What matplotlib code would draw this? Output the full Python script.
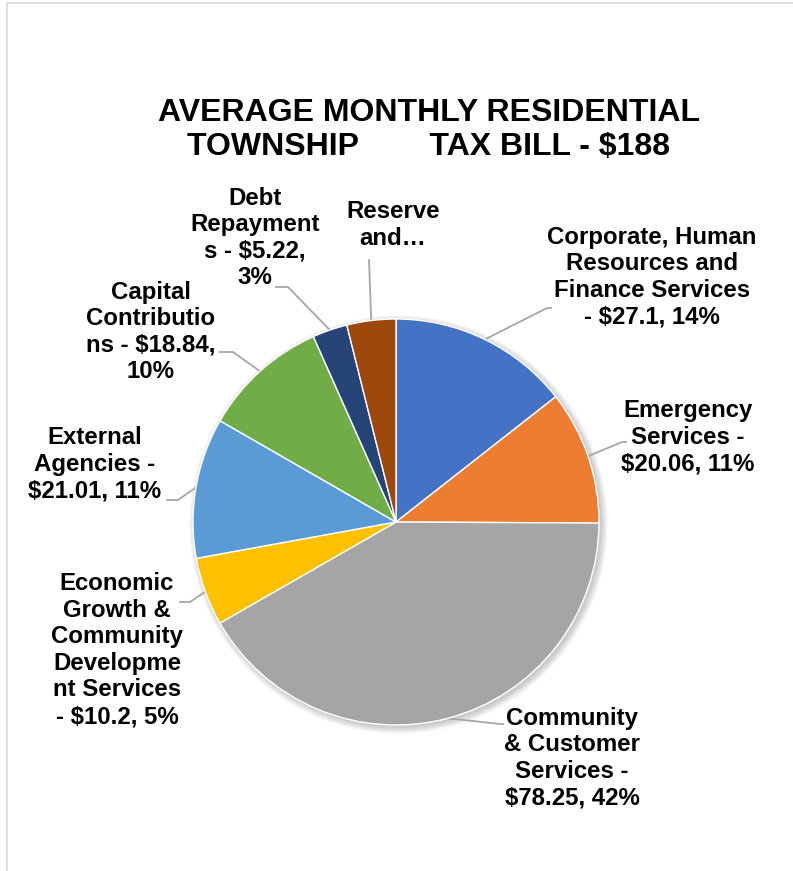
import matplotlib.pyplot as plt
import numpy as np
from matplotlib.patches import Circle, Rectangle

# monthly tax bill split, in dollars
categories = [
    "Corporate, Human\nResources and\nFinance Services\n- $27.1, 14%",
    "Emergency\nServices -\n$20.06, 11%",
    "Community\n& Customer\nServices -\n$78.25, 42%",
    "Economic\nGrowth &\nCommunity\nDevelopme\nnt Services\n- $10.2, 5%",
    "External\nAgencies -\n$21.01, 11%",
    "Capital\nContributio\nns - $18.84,\n10%",
    "Debt\nRepayment\ns - $5.22,\n3%",
    "Reserve\nand…",
]
values = [27.1, 20.06, 78.25, 10.2, 21.01, 18.84, 5.22, 7.32]
colors = ['#4472C4', '#ED7D31', '#A5A5A5', '#FFC000',
          '#5B9BD5', '#70AD47', '#264478', '#9E480E']
title = "AVERAGE MONTHLY RESIDENTIAL\nTOWNSHIP        TAX BILL - $188"

W, H = 793, 871
CX, CY, R = 396, 522, 203

# label centre and leader path (pixels, top-left origin)
label_pos = [
    (652, 277), (688, 437), (572, 758), (117, 650),
    (95, 464), (151, 332), (255, 238), (393, 225),
]
leader_pts = [
    [(547, 308), (551, 308)],
    [(622, 442), (626, 442)],
    [(500, 724), (503, 724)],
    [(190, 602), (180, 602)],
    [(178, 500), (167, 500)],
    [(233, 352), (220, 352)],
    [(288, 287), (276, 287)],
    [(369, 260)],
]


def to_data(px, py):
    return (px - CX) / R, (CY - py) / R


fig = plt.figure(figsize=(W / 100, H / 100), dpi=100)
fig.patches.append(Rectangle((6.5 / W, -0.1), 1.2, 1 - 3.5 / H + 0.1,
                             transform=fig.transFigure, fill=False,
                             edgecolor='#D9D9D9', linewidth=1.2))

ax = fig.add_axes([(CX - R) / W, (H - CY - R) / H, 2 * R / W, 2 * R / H])

# soft shadow under the pie
for k in range(6):
    ax.add_patch(Circle((0.012, -0.012), 1.0 + 0.006 * k, color='#000000',
                        alpha=0.035, linewidth=0, zorder=0, clip_on=False))

wedges, _ = ax.pie(values, colors=colors, startangle=90, counterclock=False,
                   radius=1.0, wedgeprops=dict(edgecolor='white', linewidth=1.0))
for w in wedges:
    w.set_zorder(2)
    w.set_clip_on(False)

ax.set_xlim(-1, 1)
ax.set_ylim(-1, 1)
ax.axis('off')

for w, lab, pos, pts in zip(wedges, categories, label_pos, leader_pts):
    mid = np.deg2rad((w.theta1 + w.theta2) / 2)
    xs = [np.cos(mid)]
    ys = [np.sin(mid)]
    for p in pts:
        dx, dy = to_data(*p)
        xs.append(dx)
        ys.append(dy)
    ax.plot(xs, ys, color='#A6A6A6', linewidth=1.3, clip_on=False, zorder=1)
    tx, ty = to_data(*pos)
    ax.text(tx, ty, lab, ha='center', va='center', multialignment='center',
            fontsize=17.3, fontweight='bold', family='Liberation Sans',
            linespacing=1.2, color='#000000')

fig.text(429 / W, 1 - 130 / H, title, ha='center', va='center',
         multialignment='center', fontsize=23, fontweight='bold',
         family='Liberation Sans', linespacing=1.2, color='#000000')

fig.savefig('out.png', dpi=100)
